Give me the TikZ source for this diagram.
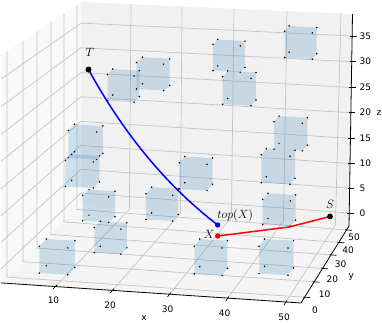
\documentclass[tikz,border=0pt]{standalone}
\usepackage{fontspec}
\newfontfamily\tickfont{DejaVu Sans}
\usetikzlibrary{calc}
\definecolor{PaneLeft}{RGB}{249,249,249}
\definecolor{PaneBack}{RGB}{241,241,241}
\definecolor{PaneFloor}{RGB}{245,245,245}
\definecolor{GridGray}{RGB}{196,196,196}
\definecolor{CubeBlue}{RGB}{31,119,180}
\tikzset{
  gridline/.style={draw=GridGray,line width=0.7pt},
  axisline/.style={draw=black,line width=0.8pt},
  tickmark/.style={draw=black,line width=0.7pt},
  ticklabel/.style={font=\tickfont\fontsize{9}{9}\selectfont,inner sep=0pt},
  cubeface/.style={fill=CubeBlue,fill opacity=0.2},
  corner/.style={fill=black},
  ptlabel/.style={font=\fontsize{12.5}{13}\selectfont,inner sep=0pt},
  pathline/.style={line width=1.5pt}
}
% front top-left corner, width, height, shift of the back face
\newcommand{\cubebox}[6]{%
  \fill[cubeface] (#1,#2) -- ++(#5,#6) -- ++(#3,1.6) -- ++(0,#4)
    -- ++({-(#5)},{-(#6)}) -- ++({-(#3)},-1.6) -- cycle;
  \fill[corner] (#1,#2) circle (0.85pt) ++(#3,1.6) circle (0.85pt)
    ++(0,#4) circle (0.85pt) ++({-(#3)},-1.6) circle (0.85pt)
    ++(#5,#6) circle (0.85pt) ++(#3,1.6) circle (0.85pt)
    ++(0,{-(#4)}) circle (0.85pt) ++({-(#3)},-1.6) circle (0.85pt);
}
\begin{document}
\begin{tikzpicture}[x=1pt,y=-1pt]
  \useasboundingbox (0,0) rectangle (382,322);
  \fill[white] (0,0) rectangle (382,322);
  \clip (0,0) rectangle (382,322);

  % box corners
  \coordinate (A) at (1,282.9);
  \coordinate (B) at (301,303);
  \coordinate (C) at (349,226);
  \coordinate (D) at (81,205.5);
  \coordinate (E) at (352.5,14);
  \coordinate (F) at (81,2);
  \coordinate (G) at (1,55.5);
  \coordinate (Vy) at (788,-479);

  % panes
  \fill[PaneLeft] (G) -- (F) -- (D) -- (A) -- cycle;
  \fill[PaneBack] (F) -- (E) -- (C) -- (D) -- cycle;
  \fill[PaneFloor] (A) -- (D) -- (C) -- (B) -- cycle;

  % grid
  \foreach \fx/\fy/\bx/\by/\tx/\ty in {56/285.9/129.4/209.2/131/4.2,
      113/289.8/180.4/213.1/182/6.5, 170/293.8/231.4/217.0/234/8.8,
      228/297.9/283.5/220.9/287/11.1, 286/301.9/335.4/225.0/341/13.5}
    \draw[gridline] (\fx,\fy) -- (\bx,\by) -- (\tx,\ty);
  \foreach \lx/\lt/\lb/\rx/\ry in {7/51.5/277.1/304.6/297.2,
      23/40.8/261.6/314.2/281.8, 37/31.4/248.1/322.6/268.4,
      51/22.1/234.5/331/254.9, 64/13.4/221.9/338.8/242.4,
      77/4.7/209.4/346.6/229.9}
    \draw[gridline] (\lx,\lt) -- (\lx,\lb) -- (\rx,\ry);
  \foreach \yf/\yb/\za/\zy in {268.9/193/349.2/213, 242.4/169.3/349.6/188.3,
      215.8/145.5/350.0/163.5, 188.9/121.4/350.4/138.3,
      161.4/96.8/350.9/112.7, 134.4/72.6/351.3/87.5,
      106.7/47.8/351.7/61.7, 79.1/23.1/352.1/36}
    \draw[gridline] (1,\yf) -- (81,\yb) -- (\za,\zy);

  % axes
  \draw[axisline] (A) -- (B) -- (C) -- (E);
  \foreach \fx/\fy/\val/\lx/\ly in {56/285.9/10/53.5/300.7, 113/289.8/20/110/305,
      170/293.8/30/167.5/309.5, 228/297.9/40/224.5/313.5, 286/301.9/50/284/317.5}{
    \draw[tickmark] ($(\fx,\fy)!-4pt!(Vy)$) -- ($(\fx,\fy)!1.5pt!(Vy)$);
    \node[ticklabel] (xt\val) at (\lx,\ly) {\val};
  }
  \foreach \rx/\ry/\val/\lx/\ly in {304.6/297.2/0/315/310, 314.2/281.8/10/324.7/294,
      322.6/268.4/20/332.3/279, 331/254.9/30/340.7/264.7,
      338.8/242.4/40/348/250.7, 346.6/229.9/50/354/237.3}{
    \draw[tickmark] (\rx,\ry) ++(-1.5,-0.1) -- ++(7,0.5);
    \node[ticklabel] (yt\val) at (\lx,\ly) {\val};
  }
  \foreach \za/\zy/\val in {349.2/213/0, 349.6/188.3/5, 350.0/163.5/10,
      350.4/138.3/15, 350.9/112.7/20, 351.3/87.5/25, 351.7/61.7/30, 352.1/36/35}{
    \draw[tickmark] (\za,\zy) ++(-2,0) -- ++(6.5,0);
    \node[ticklabel,anchor=west] (zt\val) at (359.5,\zy) {\val};
  }
  \node[ticklabel] (xname) at (144,318) {x};
  \node[ticklabel] (yname) at (351.3,277.3) {y};
  \node[ticklabel] (zname) at (379,113) {z};

  % cubes
  \foreach \px/\py/\pw/\ph/\sx/\sy in {107.5/74.5/26.6/26/5.2/-5.5,
      136.5/62.5/27.2/26.5/6/-5.2, 213/44.3/27.3/26.4/4.7/-4.8,
      222.7/76.7/28.3/27.5/5/-5.8, 284.7/31.3/27.6/26.2/4.4/-5.4,
      274/121.7/28.3/27.5/5/-5.6, 261.3/154.7/28.7/28/5/-6,
      262.7/199.3/27.6/25.3/5.3/-6, 259/246.3/29/27.3/5.5/-7.3,
      194.3/246.3/27.7/27.7/5.4/-7.3, 179.3/162.7/27.7/26.3/5.5/-6.3,
      146/193.7/26.7/25.8/5.6/-6.6, 68.3/130.3/28.4/27.5/6.2/-6,
      65.3/160.3/28/26/6.3/-6, 82.7/195.3/26/25.5/6.3/-5.7,
      94.3/227.5/26.5/25/6/-6.3, 39.3/246.3/28.5/26.8/7/-7.3}
    \cubebox{\px}{\py}{\pw}{\ph}{\sx}{\sy};

  % paths
  \coordinate (T) at (88.5,69.5);
  \coordinate (topX) at (217.7,225);
  \coordinate (X) at (217.7,236);
  \coordinate (bend) at (289,227);
  \coordinate (S) at (330,216.5);
  \draw[pathline,blue] (T) .. controls (128,141.5) and (172.7,190.4) .. (topX);
  \draw[pathline,red] (X) -- (bend) -- (S);
  \fill[black] (T) circle (3pt);
  \fill[black] (S) circle (2.9pt);
  \fill[blue] (topX) circle (2.7pt);
  \fill[red] (X) circle (2.7pt);
  \node[ptlabel] (Tname) at (90,52.8) {$T$};
  \node[ptlabel] (Sname) at (330,204) {$S$};
  \node[ptlabel] (Xname) at (209.3,234) {$X$};
  \node[ptlabel] (topXname) at (235.2,215.5) {$top(X)$};
\end{tikzpicture}
\end{document}
